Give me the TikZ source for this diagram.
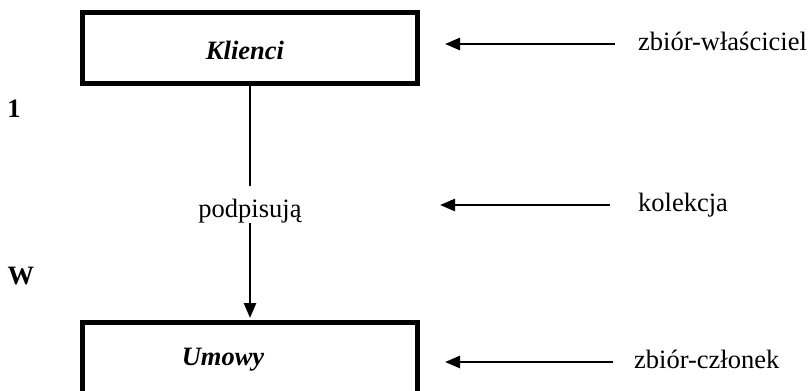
\documentclass[tikz,border=0pt]{standalone}
\usepackage{fontspec}
\setmainfont{Liberation Serif}
\usetikzlibrary{arrows.meta}

\begin{document}
\begin{tikzpicture}[x=1pt,y=-1pt,
  font=\fontsize{26.5}{30}\selectfont,
  entity/.style={draw, line width=5pt, minimum width=335pt, minimum height=71pt, inner sep=0pt},
  entitytext/.style={font=\fontsize{26.5}{30}\selectfont\bfseries\itshape, inner sep=0pt},
  note/.style={anchor=west, inner sep=0pt, text height=18pt, text depth=6pt},
  card/.style={font=\fontsize{26.5}{30}\selectfont\bfseries, inner sep=0pt},
  ptr/.style={line width=2.6pt, -{Triangle[length=15pt,width=12pt]}},
  link/.style={line width=2.4pt}]

  \useasboundingbox (0,0) rectangle (809,391);

  % entity sets
  \node[entity] (K) at (250,48) {};
  \node[entitytext] (Kt) at (245,50) {Klienci};
  \node[entity] (U) at (250,358) {};
  \node[entitytext] (Ut) at (223,360) {Umowy};

  % relationship between them
  \node[inner sep=0pt, text height=18pt, text depth=6pt, anchor=base] (rel) at (250,217) {podpisują};
  \draw[link] (K.south) -- ([yshift=13pt]rel.north);
  \draw[ptr, shorten >=2pt] (rel.south) -- (U.north);

  % cardinalities
  \node[card] (c1) at (14,109) {1};
  \node[card] (cW) at (21,276) {W};

  % role descriptions
  \node[note] (r1) at (638,44) {zbiór-właściciel};
  \coordinate (p1) at (445,44);
  \draw[ptr, shorten <=23pt] (r1) -- (p1);

  \node[note] (r2) at (638,205) {kolekcja};
  \coordinate (p2) at (440,205);
  \draw[ptr, shorten <=28pt] (r2) -- (p2);

  \node[note] (r3) at (634,362) {zbiór-członek};
  \coordinate (p3) at (445,362);
  \draw[ptr, shorten <=21pt] (r3) -- (p3);
\end{tikzpicture}
\end{document}
